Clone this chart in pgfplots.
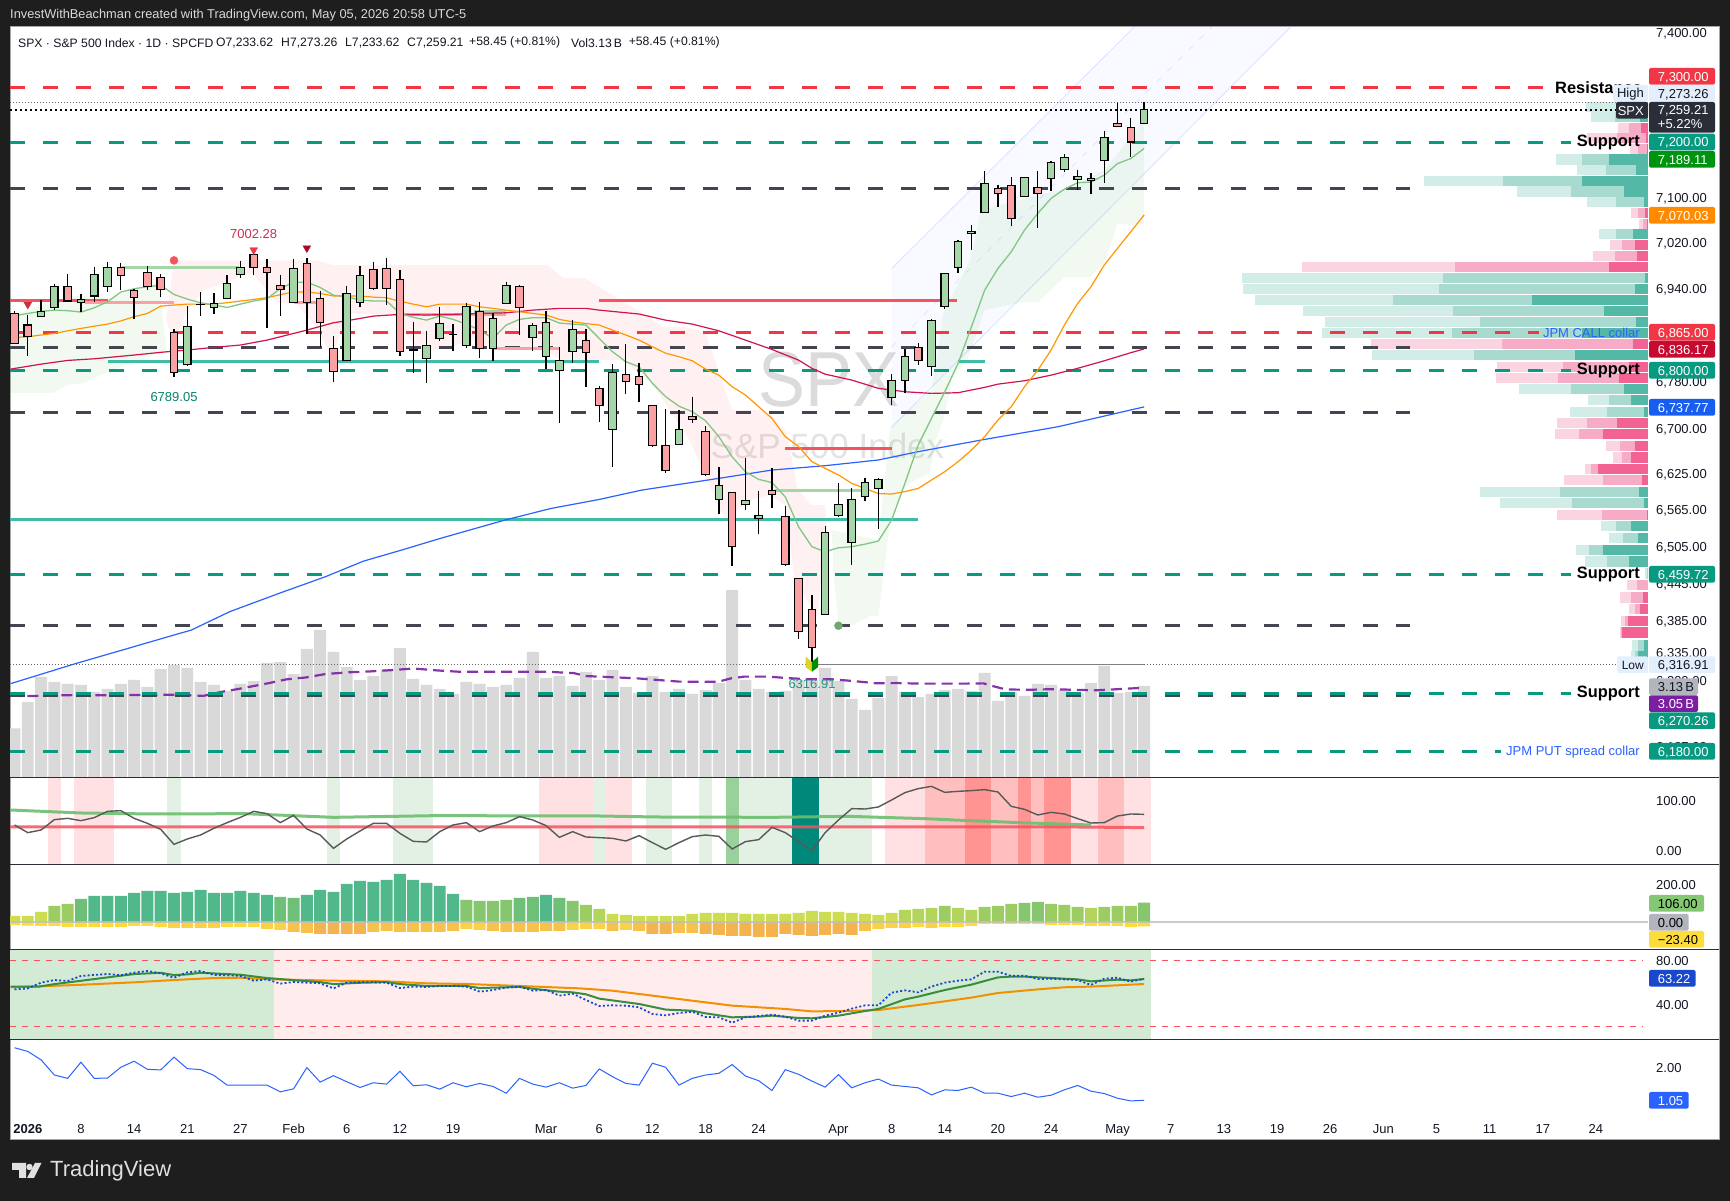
\documentclass[border=0pt]{standalone}
\usepackage{fontspec}
\setmainfont{Liberation Sans}
\usepackage{pgfplots}
\usepackage{pgfplotstable}
\pgfplotsset{compat=1.18}
\definecolor{dark}{HTML}{1E1E1E}
\definecolor{ink}{HTML}{131722}
\definecolor{cgreen}{HTML}{A5D6A7}
\definecolor{cred}{HTML}{FAA1A4}
\definecolor{lred}{HTML}{F23645}
\definecolor{lteal}{HTML}{089981}
\definecolor{lgrey}{HTML}{434651}
\definecolor{tealthick}{HTML}{3FBCA5}
\definecolor{redthick}{HTML}{F7525F}
\definecolor{maG}{HTML}{81C784}
\definecolor{maO}{HTML}{FF9800}
\definecolor{maR}{HTML}{D0144C}
\definecolor{maB}{HTML}{2962FF}
\definecolor{rsiG}{HTML}{388E3C}
\definecolor{oscG}{HTML}{6CBF6F}
\definecolor{pG}{HTML}{D2EDE7}\definecolor{pGm}{HTML}{A8DAD0}\definecolor{pGd}{HTML}{53B8A6}
\definecolor{pP}{HTML}{FAD5E1}\definecolor{pPm}{HTML}{F6ACC6}\definecolor{pPd}{HTML}{F26292}
\definecolor{bP}{HTML}{FFE1E3}\definecolor{bPm}{HTML}{FFBFBF}\definecolor{bPs}{HTML}{FF9492}
\definecolor{bG}{HTML}{E3F1E4}\definecolor{bGm}{HTML}{9AD09B}\definecolor{bGs}{HTML}{00897B}
\definecolor{hA}{HTML}{CCDD52}\definecolor{hB}{HTML}{B4D55C}\definecolor{hC}{HTML}{9CCD63}
\definecolor{hD}{HTML}{85C66E}\definecolor{hE}{HTML}{6EBF78}\definecolor{hF}{HTML}{50B88A}
\definecolor{lA}{HTML}{FDDC3A}\definecolor{lB}{HTML}{FBD246}\definecolor{lC}{HTML}{F7C24B}\definecolor{lD}{HTML}{F3B34F}
\definecolor{tagG}{HTML}{E3EFFD}
\definecolor{tagK}{HTML}{2A2E39}
\definecolor{tagO}{HTML}{FF8A00}
\definecolor{tagC}{HTML}{C70A2F}
\definecolor{tagB}{HTML}{175EF0}
\definecolor{tagGy}{HTML}{B2B5BE}
\definecolor{tagV}{HTML}{7B1FA2}
\definecolor{tagH}{HTML}{84C873}
\definecolor{tagY}{HTML}{FDDD3A}
\definecolor{tagD}{HTML}{1848CC}
\definecolor{tagE}{HTML}{00930F}

\newcommand{\cu}[5]{\pgfmathsetmacro\xa{#1-0.28}\pgfmathsetmacro\xb{#1+0.28}%
\addplot[black,line width=1.3pt] coordinates {(#1,#3)(#1,#4)};%
\addplot[fill=cgreen,draw=black,line width=1.2pt] coordinates {(\xa,#2)(\xb,#2)(\xb,#5)(\xa,#5)} --cycle;}
\newcommand{\cd}[5]{\pgfmathsetmacro\xa{#1-0.28}\pgfmathsetmacro\xb{#1+0.28}%
\addplot[black,line width=1.3pt] coordinates {(#1,#3)(#1,#4)};%
\addplot[fill=cred,draw=black,line width=1.2pt] coordinates {(\xa,#2)(\xb,#2)(\xb,#5)(\xa,#5)} --cycle;}
\newcommand{\band}[3]{\addplot[fill=#3,draw=none] coordinates {(#1,-27.4)(#2,-27.4)(#2,148)(#1,148)} --cycle;}
\newcommand{\lvl}[3]{\addplot[#1,line width=3pt,dash pattern=on 15pt off 18pt] coordinates {(-0.339,#2)(#3,#2)};}
\newcommand{\seg}[4]{\addplot[#1,line width=3pt] coordinates {(#2,#4)(#3,#4)};}
\newcommand{\Tag}[7]{\fill[#1,rounded corners=2pt] (#3,#5) rectangle (#4,#6);
\node[anchor=west,inner sep=0pt,text=#2,font=\fontsize{13}{15}\selectfont,text height=9.4pt,text depth=0pt] at (1657.7,{(#5+#6)/2}) {#7};}
\newcommand{\Leg}[2]{\node[anchor=west,inner sep=0pt,text=ink,font=\fontsize{12.2}{15}\selectfont] at (#1,42.7) {#2};}

\pgfplotstableread{
p a b c
7264 8.4 31.2 62.1
7246.3 8.4 32.6 57.5
7169.3 38.9 66 91.9
7150.2 11.9 42.1 70.9
7130.5 66 144.9 223.8
7112 23.9 76.8 130.9
7093 3.9 31.9 61
7035.7 15.1 31.9 48.8
6959 2.8 204.9 405.9
6939.9 13 209.1 404.8
6920.7 115.8 255 392.9
6901.7 43.9 195 344.8
6882.7 11.9 168 323.1
6863.7 66 196.1 325.9
6826 73 174 276.1
6767.7 23.9 76.8 129.1
6749.3 16.8 38.9 60
6729 3.9 41 77.9
6595.3 8.8 88 168
6576.5 3.9 75.8 148
6538.7 16.8 31.9 47
6519.6 9.8 24.9 38.9
6500 44.9 58.9 71.9
6481.6 18.9 41 62.8
6462.1 0.4 1.4 3.2
6346.4 3.9 9.8 15.8
6330 9.8 13 16.8
}\profG
\pgfplotstableread{
p a b c
7226.8 7 18.9 29.8
7207.9 2.1 30.9 61
7188.6 0.7 9.8 17.9
7074.1 2.8 9.8 16.8
7054.6 1 4.9 8.8
7016.9 13 26 37.9
6997.5 10.9 33 55.1
6978.2 38.9 192.9 345.9
6844.8 15.1 145.9 276.8
6805.4 18.9 84.9 150.8
6786.4 28.8 89.8 151.9
6710.5 30.9 61 90.9
6691.4 44.9 68.8 93
6672 13 28.1 42.1
6653 16.8 26 35.1
6633.5 49.8 56.8 62.8
6614.7 6 44.9 83.8
6557.3 1 46 90.9
6442.8 0 10.9 21
6423.3 4.9 16.8 28.1
6404 8 13 18.9
6385.3 20 22.8 27
6367 26 27 28.1
}\profP

\pgfplotsset{panel/.style={scale only axis,width=1638pt,xmin=-0.339,xmax=122.915,
 axis line style={draw=none},tick style={draw=none},xtick=\empty,
 ytick pos=right,yticklabel pos=right,
 yticklabel style={anchor=west,inner sep=0pt,xshift=8pt,font=\fontsize{13}{15}\selectfont,text=ink,text height=9.4pt,text depth=0pt},
 /pgf/number format/assume math mode=true},
 % the price scale of the chart is logarithmic: prices are plain numbers, mapped through ln(p/7000)*1000
 pricescale/.style={y filter/.code={\pgfmathparse{ln(##1/7000)*1000}},ymin=-131.14,ymax=57.11}}

\begin{document}
\begin{tikzpicture}[x=1pt,y=1pt]
\useasboundingbox (0,0) rectangle (1730,1201);
\fill[dark] (0,0) rectangle (1730,1201);
\begin{scope}[x=1pt,y=-1pt,shift={(0pt,1201pt)}]
\fill[white,draw=gray!70,line width=1pt] (10,27) rectangle (1719,1140);
\node[anchor=center,inner sep=0pt,text=black!14,font=\fontsize{78}{80}\selectfont,xscale=.9,transform shape] at (829,380) {SPX};
\node[anchor=center,inner sep=0pt,text=black!11,font=\fontsize{35}{37}\selectfont] at (827.5,446) {S\&P 500 Index};
\end{scope}

% ---- volume ----
\begin{axis}[panel,at={(10pt,423.7pt)},anchor=south west,height=750.3pt,ymin=0,ymax=25.72,ytick=\empty]
\addplot[ybar,bar width=11.9pt,bar shift=0pt,fill=black!15,draw=none] coordinates {
(0,1.68)(1,2.58)(2,3.44)(3,3.27)(4,3.2)(5,3.17)(6,2.93)(7,3.03)(8,3.2)(9,3.34)(10,3.1)(11,3.71)(12,3.85)(13,3.75)(14,3.27)(15,3.17)(16,2.96)(17,3.2)(18,3.3)(19,3.92)(20,3.95)(21,3.54)(22,4.4)(23,5.05)(24,4.3)(25,3.78)(26,3.34)(27,3.47)(28,3.71)(29,4.43)(30,3.37)(31,3.17)(32,3.03)(33,2.86)(34,3.27)(35,3.2)(36,3.1)(37,3.17)(38,3.41)(39,4.3)(40,3.41)(41,3.47)(42,3.13)(43,3.61)(44,3.34)
(45,3.68)(46,3.1)(47,2.89)(48,3.47)(49,2.93)(50,3.03)(51,2.86)(52,2.99)(53,3.23)(54,6.42)(55,3.34)(56,3.03)(57,2.93)(58,2.96)(59,3.34)(60,3.34)(61,3.75)(62,3.3)(63,2.69)(64,2.31)(65,2.72)(66,3.47)(67,2.93)(68,2.75)(69,2.86)(70,2.99)(71,3.03)(72,2.96)(73,3.58)(74,2.62)(75,2.93)(76,2.79)(77,3.2)(78,3.17)(79,2.99)(80,2.89)(81,3.23)(82,3.82)(83,2.89)(84,2.93)(85,3.13)};
\addplot[color=tagV,line width=2.2pt,dash pattern=on 11pt off 6pt,opacity=.9] coordinates {
(-0.3,2.82)(0.6,2.78)(2.6,2.8)(4.7,2.82)(6.4,2.81)(9,2.82)(11,2.83)(12.4,2.83)(14.2,2.79)(15.6,2.93)(16.75,3.02)(19.05,3.22)(20.5,3.36)(21.9,3.42)(23.4,3.54)(25.2,3.6)(26.8,3.63)(28.6,3.68)(30,3.73)(31.9,3.66)(33.4,3.62)(36.9,3.62)(40,3.62)(42.1,3.57)(43,3.47)(45,3.43)(46.9,3.39)(48.3,3.34)(50,3.28)(51.8,3.27)(53,3.28)(53.9,3.39)(54.9,3.45)(56.7,3.45)(58.2,3.4)(59.8,3.36)(61.5,3.36)(63.1,3.3)(64.9,3.22)(66.4,3.23)(68.2,3.21)(69.8,3.21)(71.5,3.21)(72.9,3.22)(73.5,3.14)(74.6,3.01)(76.4,3)(78,3.02)(79.7,3)(81.3,2.98)(83,3.02)(85,3.07)};
\end{axis}

% ---- volume profile ----
\begin{axis}[scale only axis,at={(10pt,423.7pt)},anchor=south west,width=1638pt,height=750.3pt,x dir=reverse,xmin=0,xmax=1638,pricescale,hide axis]
\addplot[xcomb,color=pG,line width=10.2pt] table[x=c,y=p] {\profG};
\addplot[xcomb,color=pGm,line width=10.2pt] table[x=b,y=p] {\profG};
\addplot[xcomb,color=pGd,line width=10.2pt] table[x=a,y=p] {\profG};
\addplot[xcomb,color=pP,line width=10.2pt] table[x=c,y=p] {\profP};
\addplot[xcomb,color=pPm,line width=10.2pt] table[x=b,y=p] {\profP};
\addplot[xcomb,color=pPd,line width=10.2pt] table[x=a,y=p] {\profP};
\end{axis}

% ---- price ----
\begin{axis}[panel,at={(10pt,423.7pt)},anchor=south west,height=750.3pt,pricescale,
 ytick={55.57,14.18,2.85,-8.61,-31.93,-43.80,-55.06,-64.15,-73.34,-82.60,-91.96,-99.82,-106.95,-116.53,-123.46},
 yticklabels={{7,400.00},{7,100.00},{7,020.00},{6,940.00},{6,780.00},{6,700.00},{6,625.00},{6,565.00},{6,505.00},{6,445.00},{6,385.00},{6,335.00},{6,290.00},{6,230.00},{6,187.00}}]
% shaded regions
\addplot[fill=red,fill opacity=.055,draw=none] coordinates {(12,6990)(22.7,6990)(23.9,6981.7)(40.1,6981.7)(41.3,6959)(42.9,6959)(45.6,6920.7)(47.3,6898)(48.8,6874)(50.3,6874)(51.6,6869)(52.1,6857)(54,6732.5)(56.1,6732.5)(57.1,6720.6)(58.1,6693.7)(58.9,6603.7)(59.9,6573.8)(61,6573.8)(61.1,6537.6)(60.4,6391.7)(58.7,6451.3)(58,6573.8)(56.8,6590)(55.3,6582)(53.5,6549)(53.1,6565.6)(50.8,6682)(47.8,6783)(45.6,6817.4)(41.1,6817.4)(39.9,6834.5)(36.4,6834.5)(34.6,6851.7)(31.6,6834.5)(30.1,6839.7)(28.6,6894.8)(25.1,6898)(23.9,6822.6)(22.7,6874)(21.2,6915.5)(19.8,6915.5)(17.9,6968.3)(14.3,6938)(13.2,6908.6)(12,6851.7)(11.4,6886.1)} --cycle;
\addplot[fill=green!60!black,fill opacity=.055,draw=none] coordinates {(-0.339,6891.4)(2.4,6915.5)(4.9,6929.5)(7.3,6924.2)(9,6938)(10.9,6950.3)(11.4,6834.5)(7,6797)(5.2,6778.3)(3.95,6774.8)(2.9,6761.2)(-0.339,6761.2)} --cycle;
\addplot[fill=maB,fill opacity=.03,draw=none] coordinates {(66,6975.4)(84.24,7411.3)(96,7411.3)(66,6703)} --cycle;
\addplot[color=maB!18,line width=.8pt] coordinates {(66,6975.4)(84.24,7411.3)};
\addplot[color=maB!18,line width=.8pt] coordinates {(66,6703)(96,7411.3)};
\addplot[color=maB!16,line width=.8pt,dash pattern=on 6pt off 9pt] coordinates {(66,6839.7)(90.08,7411.3)};
\addplot[fill=green!60!black,fill opacity=.055,draw=none] coordinates {(62,6378.5)(61.6,6472.4)(61.5,6532.7)(65,6516.3)(65.9,6703.8)(69,6766)(69.9,6898)(72,6995.5)(72.7,7078.9)(79.2,7118)(82,7150)(85,7240.2)(85,7054)(83,7054)(82,6985.2)(80.9,6960.8)(79,6960.8)(77,6917.2)(75.9,6917.2)(73,6903.4)(71.7,6817.4)(70.6,6788.6)(69.9,6715.7)(69.3,6682)(68.9,6628.5)(67.4,6610.3)(66.8,6598.6)(65.9,6549)(65,6393.4)(64.4,6393.4)(63,6378.5)} --cycle;
% dashed levels
\lvl{lred}{7300}{115}
\lvl{lteal}{7200}{117.1}
\lvl{lgrey}{7117.4}{105}
\lvl{lred}{6865}{114.7}
\lvl{lgrey}{6839}{105}
\lvl{lteal}{6800}{117.1}
\lvl{lgrey}{6728.5}{105}
\lvl{lteal}{6459.72}{117.1}
\lvl{lgrey}{6377.7}{105}
\lvl{lgrey}{6267}{105}
\lvl{lteal}{6270.26}{117.1}
\lvl{lteal}{6180}{111.85}
% dotted levels
\addplot[color=black!60,line width=.9pt,dash pattern=on 1pt off 2pt] coordinates {(-0.339,7273.26)(120.6,7273.26)};
\addplot[black,line width=2pt,dash pattern=on 2pt off 3pt] coordinates {(-0.339,7259.21)(120.6,7259.21)};
\addplot[color=black!60,line width=.9pt,dash pattern=on 1pt off 2pt] coordinates {(-0.339,6316.91)(120.6,6316.91)};
\addplot[color=black!50,line width=1pt] coordinates {(60,6316.91)(85,6316.91)};
% thick segments
\seg{redthick}{-0.339}{7}{6920}
\seg{cred}{5.3}{12}{6916.7}
\seg{cgreen}{8.1}{16.9}{6978}
\seg{tealthick}{7}{44}{6815.2}
\seg{tealthick}{71}{73}{6815.2}
\seg{cred}{21}{22.7}{6916}
\seg{cred}{29.2}{37}{6896.5}
\seg{cgreen}{34.6}{37}{6901.7}
\seg{cred}{36.1}{41}{6838}
\seg{redthick}{44}{70.95}{6920}
\seg{redthick}{58}{66}{6668}
\seg{tealthick}{-0.339}{68}{6550}
\seg{cgreen}{57.2}{63.85}{6598}
% moving averages
\addplot[color=maB,line width=1.2pt] coordinates {(-0.3,6285.7)(4.66,6317.8)(8.1,6339)(12.15,6364)(13.3,6371)(16.2,6400.3)(19.9,6429.8)(23.4,6456.7)(26.25,6482)(29.1,6500)(32,6519)(36.9,6549.1)(40.4,6568.3)(44,6583.1)(47.2,6598.6)(53,6618)(57,6631.9)(61,6639)(65,6648.5)(68,6662.4)(73,6683)(78.5,6704.4)(85,6737.77)};
\addplot[color=maR,line width=1.2pt] coordinates {(-0.3,6802)(2,6810.6)(4,6816.8)(6,6819.7)(9,6826)(11,6830.6)(13,6834.5)(15,6839)(17,6843)(19,6851.7)(21,6863.1)(22,6869)(24,6881.6)(25,6885)(26,6889)(27,6893)(29,6895.9)(31,6894.8)(33,6895.9)(35,6897.7)(37,6898.8)(39,6903.4)(41,6906.4)(43,6906.4)(44,6903.4)(47,6896.5)(49,6886)(51,6879.2)(53,6867.6)(55,6851.7)(57,6835.6)(59,6817.4)(60,6803.2)(61,6793.5)(63,6783.3)(65,6769.1)(67,6763.5)(69,6760.6)(71,6761.8)(73,6770.8)(74,6776.5)(76,6782.2)(78,6791.8)(80,6803.2)(82,6816.2)(84,6830)(85,6836.17)};
\addplot[color=maO,line width=1.2pt] coordinates {(0,6856.2)(1,6857.4)(2,6860.2)(3,6863.1)(4,6867.6)(5,6871.7)(6,6875.7)(7,6879.2)(8,6884.8)(9,6891.9)(10,6897.7)(11,6910.3)(12,6912)(13,6913.8)(14,6913.8)(15,6913.8)(16,6916)(17,6919)(18,6921.9)(19,6925.2)(20,6930)(21,6935.2)(22,6934.6)(23,6932.3)(24,6927.8)(25,6927.8)(26,6927.8)(27,6925.9)(28,6924.7)(29,6918.4)(30,6913.8)(31,6909.2)(32,6913.8)(33,6913.8)(34,6913.8)(35,6909.2)(36,6906.4)(37,6903.4)(38,6900.5)(39,6897.7)(40,6894.8)(41,6887.3)(42,6883)(43,6880)(44,6877.5)(45,6869)(46,6860.2)(47,6851.7)(48,6840.3)(49,6828.9)(50,6823.1)(51,6816.2)(52,6802)(53,6791.8)(54,6772)(55,6758)(56,6738)(57,6718.4)(58,6687.5)(59,6671)(60,6645.7)(61,6634.6)(62,6623.6)(63,6609.7)(64,6601.4)(65,6593)(66,6592)(67,6595.9)(68,6601.4)(69,6615.2)(70,6629)(71,6645.7)(72,6665.2)(73,6687.5)(74,6715.7)(75,6738)(76,6772)(77,6800.3)(78,6834.5)(79,6877.5)(80,6915)(81,6943.9)(82,6981.7)(83,7011)(84,7040.5)(85,7070.03)};
\addplot[color=maG,line width=1.3pt] coordinates {(0,6893.6)(1,6897.7)(2,6901)(3,6903.4)(4,6902.3)(5,6900)(6,6907.5)(7,6917.8)(8,6934.6)(9,6940.4)(10,6943.9)(11,6946.8)(12,6930.5)(13,6922.4)(14,6916)(15,6912)(16,6908)(17,6913.8)(18,6919.5)(19,6923)(20,6941)(21,6951.5)(22,6952)(23,6942.8)(24,6929.5)(25,6926.6)(26,6920.7)(27,6919.5)(28,6919.5)(29,6897.7)(30,6890.8)(31,6886.1)(32,6893)(33,6887.3)(34,6879.2)(35,6869)(36,6854.5)(37,6877.5)(38,6887.3)(39,6890.2)(40,6890.2)(41,6881)(42,6879.2)(43,6877.5)(44,6854.5)(45,6831.7)(46,6814.6)(47,6806)(48,6777.7)(49,6755)(50,6739)(51,6729.6)(52,6714.5)(53,6687.5)(54,6654)(55,6629)(56,6616.3)(57,6610.8)(58,6587.5)(59,6538.2)(60,6505.5)(61,6497.3)(62,6503.8)(63,6505.5)(64,6509.8)(65,6514.7)(66,6549.1)(67,6609.7)(68,6673.6)(69,6718.4)(70,6763.5)(71,6811.7)(72,6874)(73,6938)(74,6975.9)(75,7005)(76,7043.4)(77,7073)(78,7099.6)(79,7116.2)(80,7127.6)(81,7128.8)(82,7141.2)(83,7162)(84,7171)(85,7189.11)};
% candles: index, open, high, low, close
\cd{0}{6897.7}{6901.7}{6846}{6846}
\cd{1}{6877.5}{6894.8}{6824.8}{6858.5}
\cu{2}{6892.5}{6920.7}{6892.5}{6900.5}
\cu{3}{6908}{6948.6}{6903.4}{6943.9}
\cd{4}{6943.9}{6966}{6919.5}{6919.5}
\cu{5}{6916}{6931.2}{6900}{6921.9}
\cu{6}{6927.7}{6978.8}{6917.8}{6964.9}
\cu{7}{6944.5}{6987}{6935.2}{6977}
\cd{8}{6977}{6985.8}{6938}{6963.7}
\cd{9}{6938}{6940.4}{6887.3}{6925.2}
\cd{10}{6968.3}{6980}{6939.3}{6944.5}
\cd{11}{6959.6}{6967.2}{6926.5}{6939.3}
\cd{12}{6865}{6870}{6789.05}{6796.4}
\cu{13}{6810}{6910.3}{6807.1}{6874.6}
\cu{14}{6913}{6934.1}{6893.6}{6913.5}
\cu{15}{6908}{6932.3}{6896.5}{6915}
\cu{16}{6923}{6964.3}{6923}{6949.2}
\cu{17}{6965.4}{6988.2}{6959.6}{6977}
\cd{18}{7000}{7002.28}{6964.3}{6977.6}
\cd{19}{6977.6}{6991.7}{6871.7}{6968.9}
\cd{20}{6945.7}{6964.3}{6893.6}{6938.7}
\cu{21}{6916.7}{6991.7}{6915}{6975.3}
\cd{22}{6984}{6993.5}{6862}{6917.2}
\cd{23}{6923.6}{6937}{6840.3}{6882}
\cd{24}{6837.4}{6858.5}{6780.5}{6798}
\cu{25}{6816.8}{6945}{6816.8}{6931.8}
\cu{26}{6916.7}{6980}{6908}{6963.7}
\cd{27}{6974.2}{6987}{6938}{6941}
\cd{28}{6975.3}{6994.6}{6912.6}{6941}
\cd{29}{6956.7}{6973}{6824.8}{6832.3}
\cd{30}{6835}{6882.3}{6795.8}{6833.5}
\cu{31}{6820.3}{6867}{6777.7}{6842.5}
\cu{32}{6854.5}{6909.2}{6850.5}{6880}
\cu{33}{6861.2}{6879}{6833.4}{6861.6}
\cu{34}{6842.5}{6915}{6837.4}{6909.8}
\cd{35}{6901}{6917.2}{6821.4}{6837.4}
\cu{36}{6837.4}{6898.8}{6816.2}{6889}
\cu{37}{6915}{6952.7}{6915}{6946.3}
\cd{38}{6944.5}{6946.8}{6860.2}{6908}
\cu{39}{6856.2}{6880.9}{6833.4}{6876.3}
\cu{40}{6823.7}{6901.7}{6802}{6882}
\cu{41}{6800.3}{6840.3}{6711.1}{6816.2}
\cu{42}{6832.3}{6886}{6812.9}{6870}
\cd{43}{6851.1}{6870}{6772}{6830}
\cd{44}{6769.2}{6773.1}{6712.8}{6739.7}
\cu{45}{6700}{6810}{6637.4}{6795.8}
\cd{46}{6793}{6844.8}{6759.6}{6781}
\cd{47}{6789}{6811.7}{6746.5}{6776}
\cd{48}{6739.7}{6739.7}{6670.8}{6672.5}
\cd{49}{6673}{6734}{6626}{6630.8}
\cu{50}{6674.7}{6732.4}{6674.7}{6700}
\cd{51}{6721.8}{6755}{6711}{6716}
\cd{52}{6696.5}{6705.5}{6621.9}{6624}
\cu{53}{6583}{6636.8}{6559}{6606.4}
\cd{54}{6594.7}{6594.7}{6474.5}{6506}
\cu{55}{6574.9}{6651.3}{6565.6}{6581.5}
\cu{56}{6551.3}{6597}{6526}{6556.8}
\cd{57}{6598}{6634.6}{6569.4}{6590.9}
\cd{58}{6555}{6573}{6474.5}{6477}
\cd{59}{6454}{6454}{6356.5}{6368.7}
\cd{60}{6404}{6428}{6316.91}{6343.2}
\cu{61}{6396}{6538.7}{6396}{6528.8}
\cu{62}{6556.8}{6609.7}{6554.6}{6574.9}
\cu{63}{6512.5}{6601.4}{6476.2}{6583}
\cu{64}{6588}{6618}{6580.3}{6610.8}
\cu{65}{6601.4}{6618}{6534.4}{6616.3}
\cu{66}{6753.8}{6793.5}{6741.4}{6782.8}
\cu{67}{6782.8}{6836.2}{6761.8}{6823.7}
\cd{68}{6839}{6846}{6809.4}{6816.2}
\cu{69}{6806.6}{6887.3}{6790.7}{6885.6}
\cu{70}{6909.8}{6968.3}{6905.7}{6967.2}
\cu{71}{6977.6}{7025.8}{6968.3}{7023.4}
\cu{72}{7037.5}{7052.3}{7008.7}{7041}
\cu{73}{7074.7}{7147.8}{7074.7}{7126.3}
\cd{74}{7117.4}{7122.8}{7084.8}{7108.5}
\cd{75}{7122.8}{7137}{7051}{7064}
\cu{76}{7103}{7138}{7103}{7137}
\cd{77}{7119.2}{7147.8}{7047.5}{7108.5}
\cu{78}{7135.3}{7166.3}{7113}{7164}
\cu{79}{7150.7}{7178.4}{7147.2}{7173}
\cu{80}{7133.5}{7151.3}{7114.2}{7139}
\cu{81}{7131.7}{7144.8}{7107}{7135.3}
\cu{82}{7167.5}{7220.5}{7127.6}{7209}
\cd{83}{7234.6}{7272.5}{7229.2}{7229.2}
\cd{84}{7227.4}{7244}{7173}{7200.76}
\cu{85}{7233.62}{7273.26}{7233.62}{7259.21}
% signal marks
\addplot[only marks,mark=*,mark size=4pt,color=redthick] coordinates {(12,6990)};
\addplot[only marks,mark=*,mark size=4pt,color=maG!85!black] coordinates {(62,6378)};
\addplot[only marks,mark=triangle*,mark size=4.5pt,color=tagC!85!black,mark options={rotate=180}] coordinates {(22,7011.7)};
\addplot[only marks,mark=triangle*,mark size=4.5pt,color=lred!85!black,mark options={rotate=180}] coordinates {(1,6913.2)};
\addplot[only marks,mark=triangle*,mark size=4.5pt,color=lred,mark options={rotate=180}] coordinates {(18,7008.2)};
\addplot[fill=yellow!85!black,draw=none] coordinates {(59.53,6328.5)(60,6320)(60,6304.6)(59.53,6312)} --cycle;
\addplot[fill=green!55!black,draw=none] coordinates {(60,6320)(60.47,6328.5)(60.47,6312)(60,6304.6)} --cycle;
\end{axis}

% ---- oscillator 1 ----
\begin{axis}[panel,at={(10pt,336pt)},anchor=south west,height=87.7pt,ymin=-27.4,ymax=148,ytick={100,0},yticklabels={100.00,0.00}]
\band{2.5}{3.5}{bP}\band{4.5}{7.5}{bP}\band{11.5}{12.5}{bG}\band{23.5}{24.5}{bG}\band{28.5}{31.5}{bG}
\band{39.5}{43.5}{bP}\band{43.5}{44.5}{bG}\band{44.5}{46.5}{bP}\band{47.5}{49.5}{bG}\band{51.5}{52.5}{bG}
\band{53.5}{54.5}{bGm}\band{54.5}{58.5}{bG}\band{58.5}{60.5}{bGs}\band{60.5}{64.5}{bG}
\band{65.5}{68.5}{bP}\band{68.5}{71.5}{bPm}\band{71.5}{73.5}{bPs}\band{73.5}{75.5}{bPm}\band{75.5}{76.5}{bPs}\band{76.5}{77.5}{bPm}\band{77.5}{79.5}{bPs}\band{79.5}{81.5}{bP}\band{81.5}{83.5}{bPm}\band{83.5}{85.5}{bP}
\addplot[color=redthick,line width=3pt,opacity=.85] coordinates {(-0.339,48.6)(80,48.6)(85,47.3)};
\addplot[color=oscG,line width=3pt,opacity=.9] coordinates {(-0.3,82.6)(5,76.6)(10.4,74.6)(17.3,75.3)(24,67.9)(31.7,71.3)(44,70.6)(48.3,68.6)(57,67.9)(62.7,69.9)(68.5,65.3)(71.3,61.9)(75.6,57.3)(81,52.6)};
\addplot[color=black!65,line width=1.4pt] coordinates {(0,52.6)(1,37.3)(2,42.6)(3,63.3)(4,65.9)(5,61.3)(6,67.3)(7,79.9)(8,81.3)(9,65.9)(10,55.9)(11,43.9)(12,13.9)(13,24.6)(14,32.6)(15,45.9)(16,57.3)(17,67.9)(18,79.9)(19,75.3)(20,57.3)(21,71.9)(22,44.6)(23,32.6)(24,5.9)(25,24.6)(26,40.6)(27,55.9)(28,55.9)(29,35.9)(30,19.9)(31,18.6)(32,39.3)(33,52.6)(34,57.3)(35,39.3)(36,50.6)(37,57.3)(38,69.3)(39,62.6)(40,51.3)(41,27.9)(42,39.3)(43,28.6)(44,27.3)(45,25.9)(46,20.6)(47,31.3)(48,17.3)(49,3.9)(50,17.3)(51,29.3)(52,32.6)(53,29.9)(54,4.6)(55,19.3)(56,23.3)(57,47.9)(58,37.3)(59,19.3)(60,1.3)(61,37.3)(62,62.6)(63,85.3)(64,84.6)(65,88.6)(66,102.6)(67,117.3)(68,125.3)(69,129.9)(70,117.9)(71,119.9)(72,121.3)(73,123.3)(74,118.6)(75,89.9)(76,83.9)(77,72.6)(78,77.9)(79,74.6)(80,65.3)(81,56.6)(82,57.3)(83,70.6)(84,74.6)(85,73.9)};
\end{axis}

% ---- histogram ----
\begin{axis}[panel,at={(10pt,251pt)},anchor=south west,height=85pt,ymin=-152.6,ymax=310.6,ytick={200},yticklabels={200.00}]
\addplot[ybar,bar width=11.9pt,bar shift=0pt,fill=hA,draw=none] coordinates {(0,32.7)(1,32.7)(2,54.5)(45,43.6)(46,38.1)(47,32.7)(48,32.7)(49,32.7)(50,32.7)(51,43.6)(52,49)(53,49)(54,49)(55,43.6)(56,43.6)(57,43.6)(58,43.6)(59,49)(60,59.9)(61,54.5)(62,54.5)(63,49)(64,43.6)(65,38.1)(66,49)};
\addplot[ybar,bar width=11.9pt,bar shift=0pt,fill=hB,draw=none] coordinates {(44,70.8)(67,65.4)(68,70.8)(69,76.3)(71,76.3)(72,65.4)(81,76.3)};
\addplot[ybar,bar width=11.9pt,bar shift=0pt,fill=hC,draw=none] coordinates {(3,87.2)(4,98.1)(43,92.6)(70,87.2)(73,81.7)(74,87.2)(75,98.1)(78,98.1)(79,92.6)(80,81.7)(82,81.7)(83,87.2)(84,87.2)};
\addplot[ybar,bar width=11.9pt,bar shift=0pt,fill=hD,draw=none] coordinates {(34,119.9)(35,114.4)(36,114.4)(37,119.9)(42,114.4)(76,103.5)(77,109)(85,106)};
\addplot[ybar,bar width=11.9pt,bar shift=0pt,fill=hE,draw=none] coordinates {(5,125.3)(20,136.2)(21,130.8)(38,130.8)(39,136.2)(41,130.8)};
\addplot[ybar,bar width=11.9pt,bar shift=0pt,fill=hF,draw=none] coordinates {(6,141.7)(7,141.7)(8,141.7)(9,158)(10,168.9)(11,168.9)(12,158)(13,163.5)(14,174.4)(15,158)(16,158)(17,168.9)(18,158)(19,147.1)(22,147.1)(23,174.4)(24,163.5)(25,207.1)(26,223.4)(27,218)(28,228.9)(29,261.6)(30,228.9)(31,212.5)(32,196.2)(33,152.6)(40,147.1)};
\addplot[ybar,bar width=11.9pt,bar shift=0pt,fill=lA,draw=none] coordinates {(0,-16.3)(1,-20)(2,-21.8)(3,-21.8)(4,-27.2)(5,-27.2)(6,-27.2)(7,-27.2)(8,-27.2)(9,-21.8)(10,-21.8)(11,-27.2)(16,-27.2)(17,-27.2)(18,-27.2)(68,-27.2)(70,-27.2)(71,-27.2)(72,-21.8)(73,-10.9)(74,-10.9)(75,-10.9)(76,-10.9)(77,-10.9)(78,-16.3)(79,-16.3)(80,-16.3)(81,-21.8)(82,-21.8)(83,-21.8)(84,-27.2)(85,-23.4)};
\addplot[ybar,bar width=11.9pt,bar shift=0pt,fill=lB,draw=none] coordinates {(12,-32.7)(13,-32.7)(14,-32.7)(15,-32.7)(19,-38.1)(20,-43.6)(34,-38.1)(35,-43.6)(42,-43.6)(43,-38.1)(44,-38.1)(46,-43.6)(65,-38.1)(66,-32.7)(67,-32.7)(69,-32.7)};
\addplot[ybar,bar width=11.9pt,bar shift=0pt,fill=lC,draw=none] coordinates {(21,-54.5)(22,-59.9)(27,-54.5)(28,-49)(29,-54.5)(30,-54.5)(31,-54.5)(32,-54.5)(33,-49)(36,-49)(37,-54.5)(38,-54.5)(39,-54.5)(40,-49)(41,-49)(45,-49)(47,-49)(50,-59.9)(51,-59.9)(64,-49)};
\addplot[ybar,bar width=11.9pt,bar shift=0pt,fill=lD,draw=none] coordinates {(23,-65.4)(24,-65.4)(25,-65.4)(26,-65.4)(48,-65.4)(49,-65.4)(52,-65.4)(53,-70.8)(54,-76.3)(55,-76.3)(56,-81.7)(57,-81.7)(58,-65.4)(59,-70.8)(60,-76.3)(61,-70.8)(62,-65.4)(63,-70.8)};
\addplot[color=black!25,line width=1.6pt,opacity=.8] coordinates {(-0.339,0)(122.915,0)};
\end{axis}

% ---- RSI-like ----
\begin{axis}[panel,at={(10pt,161pt)},anchor=south west,height=90pt,ymin=7.58,ymax=89.4,ytick={80,40},yticklabels={80.00,40.00}]
\addplot[fill=maG!35,draw=none] coordinates {(-0.339,7.58)(19.5,7.58)(19.5,89.4)(-0.339,89.4)} --cycle;
\addplot[fill=bP!60,draw=none] coordinates {(19.5,7.58)(64.5,7.58)(64.5,89.4)(19.5,89.4)} --cycle;
\addplot[fill=maG!35,draw=none] coordinates {(64.5,7.58)(85.5,7.58)(85.5,89.4)(64.5,89.4)} --cycle;
\addplot[color=redthick,line width=1pt,dash pattern=on 6pt off 6pt] coordinates {(-0.339,80)(122.5,80)};
\addplot[color=redthick,line width=1pt,dash pattern=on 6pt off 6pt] coordinates {(-0.339,20)(122.5,20)};
\addplot[color=maO!95!black,line width=2pt] coordinates {(-0.3,55.5)(4.7,57.6)(9,60)(12,62.1)(15,63.9)(17,64.2)(19.5,62.7)(24,61.5)(28,60.9)(31,59.1)(34,58.5)(38,56.7)(42.55,54.5)(45,52.4)(48,47.9)(51,43.3)(54,38.8)(58,35.8)(60,33.6)(62.4,33.9)(65,34.8)(68,39.4)(72,46.1)(74,50.3)(77,53.6)(79,55.5)(81,56.1)(85,58.5)};
\addplot[color=rsiG,line width=2pt] coordinates {(-0.3,56)(1.8,56)(3,58.4)(5,61.4)(7,64.5)(9,67.5)(11,68.7)(12,66.6)(13,67.2)(14,68.7)(17,66.9)(19,63.9)(21,62)(23,60.2)(24,58.4)(26,59.6)(28,60.2)(29,58.4)(31,56.7)(34,56.7)(35,54.8)(37,55.5)(38,55.8)(39,54.2)(41,51.5)(42,50.9)(43,49.1)(44,45.2)(47,40.3)(49,35.2)(51,34.2)(52,31.8)(54,28.2)(56,28.8)(57,29.7)(59,27.6)(60,27.3)(62,29.7)(64,33.9)(65,35.8)(67,44.5)(68,47)(70,53)(72,57.9)(74,64.5)(75,65.2)(76,65.2)(79,63.3)(80,62.7)(81,60.9)(83,62.4)(84,61.8)(85,63)};
\addplot[color=tagD,line width=1.8pt,dash pattern=on 2pt off 2.2pt] coordinates {(0,53.6)(1,54.5)(2,59.7)(3,62.1)(4,61.2)(5,65.8)(6,66.7)(7,67.6)(8,66.4)(9,68.8)(10,70.3)(11,68.2)(12,64.2)(13,69.1)(14,70.3)(15,66.7)(16,66.4)(17,65.8)(18,61.5)(19,62.7)(20,58.8)(21,60.3)(22,59.7)(23,59.1)(24,54.5)(25,59.7)(26,60)(27,60)(28,59.7)(29,54.8)(30,56.1)(31,55.8)(32,56.7)(33,56.7)(34,56.1)(35,51.5)(36,53)(37,55.2)(38,56.1)(39,52.4)(40,53)(41,47.9)(42,49.7)(43,43.9)(44,38.5)(45,39.1)(46,38.8)(47,37.3)(48,31.2)(49,30)(50,32.1)(51,33.3)(52,28.5)(53,28.2)(54,23.3)(55,28.2)(56,29.4)(57,30.6)(58,28.8)(59,25.2)(60,25.2)(61,29.7)(62,32.4)(63,36.1)(64,39.1)(65,39.1)(66,50.6)(67,52.7)(68,50.9)(69,56.1)(70,59.7)(71,61.5)(72,62.7)(73,69.7)(74,69.7)(75,65.8)(76,66.1)(77,63)(78,63.3)(79,62.7)(80,62.1)(81,57.6)(82,63.3)(83,64.2)(84,60.6)(85,63.22)};
\end{axis}

% ---- bottom line + time axis ----
\begin{axis}[panel,at={(10pt,61pt)},anchor=south west,height=100pt,ymin=-0.13,ymax=2.84,ytick={2},yticklabels={2.00},
 xtick={1,5,9,13,17,21,25,29,33,40,44,48,52,56,62,66,70,74,78,83,87,91,95,99,103,107,111,115,119},
 xticklabels={\textbf{2026},8,14,21,27,Feb,6,12,19,Mar,6,12,18,24,Apr,8,14,20,24,May,7,13,19,26,Jun,5,11,17,24},
 xtick pos=bottom,
 xticklabel style={anchor=center,inner sep=0pt,font=\fontsize{13}{15}\selectfont,text=ink,text height=9.4pt,text depth=0pt,yshift=11.5pt}]
\addplot[color=maB,line width=1pt] coordinates {(0,2.61)(1,2.5)(2,2.25)(3,1.8)(4,1.7)(5,2.18)(6,1.7)(7,1.71)(8,2.03)(9,2.21)(10,1.97)(11,1.95)(12,2.33)(13,1.99)(14,1.96)(15,1.79)(16,1.5)(17,1.5)(18,1.5)(19,1.5)(20,1.3)(21,1.39)(22,2.02)(23,1.59)(24,1.78)(25,1.6)(26,1.43)(27,1.57)(28,1.53)(29,1.91)(30,1.48)(31,1.51)(32,1.38)(33,1.57)(34,1.45)(35,1.55)(36,1.46)(37,1.26)(38,1.7)(39,1.53)(40,1.44)(41,1.57)(42,1.41)(43,1.49)(44,1.98)(45,1.75)(46,1.55)(47,1.5)(48,2.15)(49,2.03)(50,1.5)(51,1.7)(52,1.8)(53,1.85)(54,2.11)(55,1.77)(56,1.63)(57,1.34)(58,1.96)(59,1.82)(60,1.62)(61,1.44)(62,1.81)(63,1.42)(64,1.57)(65,1.68)(66,1.5)(67,1.46)(68,1.42)(69,1.21)(70,1.36)(71,1.34)(72,1.44)(73,1.26)(74,1.26)(75,1.16)(76,1.26)(77,1.14)(78,1.2)(79,1.36)(80,1.49)(81,1.32)(82,1.25)(83,1.11)(84,1.03)(85,1.05)};
\end{axis}

% ---- frame, texts and scale tags, in pixels of the picture ----
\begin{scope}[x=1pt,y=-1pt,shift={(0pt,1201pt)}]
\foreach \yy in {777.3,865,950,1040}{\draw[color=tagK,line width=1pt] (10,\yy)--(1719,\yy);}
\node[anchor=west,inner sep=0pt,text=black!15,font=\fontsize{12.8}{15}\selectfont] at (10,15.7) {InvestWithBeachman created with TradingView.com, May 05, 2026 20:58 UTC-5};
\Leg{18}{SPX · S\&P 500 Index · 1D · SPCFD}
\Leg{216}{O7,233.62}
\Leg{281}{H7,273.26}
\Leg{345}{L7,233.62}
\Leg{407}{C7,259.21}
\Leg{469}{+58.45 (+0.81\%)}
\Leg{571}{Vol3.13\,B}
\Leg{628.6}{+58.45 (+0.81\%)}
\node[anchor=center,inner sep=0pt,text=tagC!85!white,font=\fontsize{13}{15}\selectfont] at (253.7,233.7) {7002.28};
\node[anchor=center,inner sep=0pt,text=lteal!85!black,font=\fontsize{13}{15}\selectfont] at (174,396.7) {6789.05};
\node[anchor=center,inner sep=0pt,text=lteal!75!gray,font=\fontsize{13}{15}\selectfont] at (812,684) {6316.91};
\node[anchor=east,inner sep=0pt,text=black,font=\fontsize{16.4}{18}\selectfont\bfseries] at (1642,87.3) {Resistance};
\foreach \yy in {142.3,370.3,574.3,693}{\node[anchor=east,inner sep=0pt,text=black,font=\fontsize{16.4}{18}\selectfont\bfseries] at (1640,\yy) {Support};}
\node[anchor=east,inner sep=0pt,text=maB,font=\fontsize{13}{15}\selectfont] at (1640,333) {JPM CALL collar};
\node[anchor=east,inner sep=0pt,text=maB,font=\fontsize{13}{15}\selectfont] at (1640,751.7) {JPM PUT spread collar};
% labels left of scale
\fill[tagG,rounded corners=2pt] (1613,85) rectangle (1648,101.7);
\node[anchor=east,inner sep=0pt,text=ink,font=\fontsize{13}{15}\selectfont,text height=9.4pt,text depth=0pt] at (1644,93.3) {High};
\fill[tagK,rounded corners=2pt] (1616,102) rectangle (1648,118.7);
\node[anchor=east,inner sep=0pt,text=white,font=\fontsize{13}{15}\selectfont,text height=9.4pt,text depth=0pt] at (1644,110.4) {SPX};
\fill[tagG,rounded corners=2pt] (1617,656.3) rectangle (1648,673);
\node[anchor=east,inner sep=0pt,text=ink,font=\fontsize{12}{15}\selectfont,text height=9.4pt,text depth=0pt] at (1644,664.6) {Low};
% scale tags
\Tag{lred}{white}{1649}{1715}{68}{84.7}{7,300.00}
\Tag{tagG}{ink}{1649}{1715}{85}{101.7}{7,273.26}
\fill[tagK,rounded corners=2pt] (1649,102) rectangle (1715,132.7);
\node[anchor=west,inner sep=0pt,text=white,font=\fontsize{13}{15}\selectfont,text height=9.4pt,text depth=0pt] at (1657.7,110) {7,259.21};
\node[anchor=west,inner sep=0pt,text=white,font=\fontsize{13}{15}\selectfont,text height=9.4pt,text depth=0pt] at (1657.7,124) {+5.22\%};
\Tag{lteal}{white}{1649}{1715}{133.7}{150.3}{7,200.00}
\Tag{tagE}{white}{1649}{1715}{151}{167.7}{7,189.11}
\Tag{tagO}{white}{1649}{1715}{207}{223.7}{7,070.03}
\Tag{lred}{white}{1649}{1715}{324}{340.7}{6,865.00}
\Tag{tagC}{white}{1649}{1715}{341}{357.7}{6,836.17}
\Tag{lteal}{white}{1649}{1715}{362}{378.7}{6,800.00}
\Tag{tagB}{white}{1649}{1715}{399}{415.7}{6,737.77}
\Tag{lteal}{white}{1649}{1715}{566}{582.7}{6,459.72}
\Tag{tagG}{ink}{1649}{1715}{656.3}{673}{6,316.91}
\Tag{tagGy}{ink}{1649}{1698}{678.3}{695}{3.13\,B}
\Tag{tagV}{white}{1649}{1698}{695.3}{712}{3.05\,B}
\Tag{lteal}{white}{1649}{1715}{712.3}{729}{6,270.26}
\Tag{lteal}{white}{1649}{1715}{743}{759.7}{6,180.00}
\Tag{tagH}{black}{1649}{1704}{895}{911.7}{106.00}
\Tag{tagGy}{black}{1649}{1688.6}{914}{930.7}{0.00}
\Tag{tagY}{black}{1649}{1704}{931}{947.7}{−23.40}
\Tag{tagD}{white}{1649}{1695.6}{970}{986.7}{63.22}
\Tag{maB}{white}{1649}{1688.6}{1092}{1108.7}{1.05}
% logo
\fill[color=black!12] (12,1163)--(26,1163)--(26,1178)--(19,1178)--(19,1170)--(12,1170)--cycle;
\fill[color=black!12] (29.5,1167) circle (3.2);
\fill[color=black!12] (35,1163)--(41.5,1163)--(34,1178)--(27,1178)--cycle;
\node[anchor=west,inner sep=0pt,text=black!12,font=\fontsize{22}{24}\selectfont] at (50,1171) {TradingView};
\end{scope}
\end{tikzpicture}
\end{document}
